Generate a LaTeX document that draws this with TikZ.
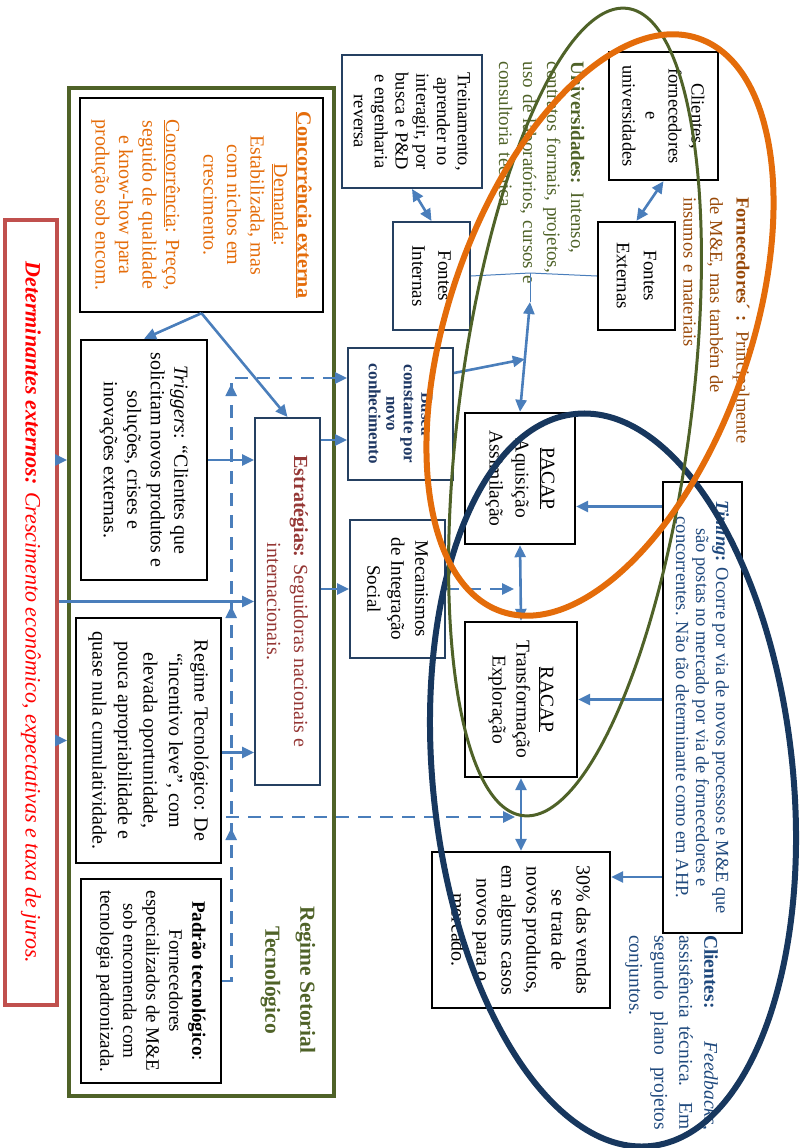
\documentclass[tikz,border=0pt]{standalone}
\usepackage{fontspec}
\setmainfont{Liberation Serif}
\usepackage{tikz}
\usetikzlibrary{arrows.meta, decorations.markings, calc}

\definecolor{olivegr}{HTML}{4F6228}
\definecolor{orng}{HTML}{E46C0A}
\definecolor{brwn}{HTML}{984807}
\definecolor{navyell}{HTML}{17375E}
\definecolor{dkbox}{HTML}{254061}
\definecolor{arrblue}{HTML}{4A7EBB}
\definecolor{dkred}{HTML}{953735}
\definecolor{txtblue}{HTML}{1F497D}
\definecolor{redbox}{HTML}{C0504D}
\definecolor{redtxt}{HTML}{FF0000}
\definecolor{bscblue}{HTML}{1F3864}

\newcommand{\fsz}[2]{\fontsize{#1}{#2}\selectfont}

\begin{document}
\begin{tikzpicture}[
    x=1pt, y=-1pt,
    >={Triangle[length=12pt, width=11pt]},
    box/.style={draw=black, line width=2.4pt, rotate=-90, inner sep=0pt, align=center},
    bluebox/.style={box, draw=dkbox, line width=2pt},
    freetxt/.style={rotate=-90, inner sep=0pt, align=left},
    conn/.style={->, color=arrblue, line width=2.6pt},
    biconn/.style={conn, <->},
    dashconn/.style={conn, dash pattern=on 13pt off 9pt},
    thinconn/.style={color=arrblue, line width=1pt},
    upmarks/.style={postaction={decorate}, decoration={markings,
        mark=at position 162pt with {\arrow{Triangle[length=12pt, width=11pt]}},
        mark=at position 384pt with {\arrow{Triangle[length=12pt, width=11pt]}},
        mark=at position 606pt with {\arrow{Triangle[length=12pt, width=11pt]}}}}
]
    \useasboundingbox (0,0) rectangle (800,1148);

    % determinantes externos
    \node[box, draw=redbox, line width=3.5pt, minimum width=785pt, minimum height=52pt,
          text=redtxt, font=\fsz{22}{26}\itshape] (det) at (31,612.5)
        {\textbf{Determinantes externos:} Crescimento econômico, expectativas e taxa de juros.};

    % regime setorial
    \node[draw=olivegr, line width=4pt, minimum width=265pt, minimum height=1008pt, inner sep=0pt] (regset) at (201.5,592) {};
    \node[rotate=-90, text=olivegr, font=\fsz{21.5}{35}\bfseries, align=center] (rstlab) at (288,980)
        {Regime Setorial\\Tecnológico};

    \node[box, minimum width=214pt, minimum height=243pt, text=orng, font=\fsz{20}{23.5}] (conc) at (201.5,205)
        {\textbf{\underline{Concorrência externa}}\\ \underline{Demanda}:\\ Estabilizada, mas\\ com nichos em\\ crescimento.\\[14pt]
         \underline{Concorrência}: Preço,\\ seguido de qualidade\\ e know-how para\\ produção sob encom.};
    \node[box, minimum width=240pt, minimum height=126pt, font=\fsz{20}{23.5}] (trig) at (144,460)
        {\textit{Triggers}: “Clientes que\\ solicitam novos produtos e\\ soluções, crises e\\ inovações externas.};
    \node[box, minimum width=245pt, minimum height=145pt, font=\fsz{20}{25.5}] (regt) at (148.5,740.5)
        {Regime Tecnológico: De\\ “incentivo leve”, com\\ elevada oportunidade,\\ pouca apropriabilidade e\\ quase nula cumulatividade.};
    \node[box, minimum width=204pt, minimum height=140pt, font=\fsz{19}{23}] (padr) at (151,981)
        {\textbf{Padrão tecnológico}:\\ Fornecedores\\ especializados de M\&E\\ sob encomenda com\\ tecnologia padronizada.};
    \node[bluebox, minimum width=367pt, minimum height=65pt, text=dkred, font=\fsz{20}{27}] (estr) at (287.5,601.5)
        {\textbf{Estratégias:} Seguidoras nacionais e\\ internacionais.};

    % fontes e busca
    \node[bluebox, minimum width=133pt, minimum height=140pt, font=\fsz{18.5}{20.8}] (tre) at (412,121.5)
        {Treinamento,\\ aprender no\\ interagir, por\\ busca e P\&D\\ e engenharia\\ reversa};
    \node[bluebox, minimum width=108pt, minimum height=77pt, font=\fsz{19}{26}] (fint) at (431.5,276) {Fontes\\ Internas};
    \node[bluebox, minimum width=132pt, minimum height=105pt, text=bscblue, font=\fsz{17}{17.5}\bfseries] (busca) at (400.5,414)
        {Busca\\ constante por\\ novo\\ conhecimento};
    \node[bluebox, minimum width=138pt, minimum height=95pt, font=\fsz{19}{24}] (mec) at (397.5,589)
        {Mecanismos\\ de Integração\\ Social};

    \node[box, minimum width=131pt, minimum height=110pt, font=\fsz{19.5}{26}] (pacap) at (520,478.5)
        {\underline{PACAP}\\ Aquisição\\ Assimilação};
    \node[box, minimum width=155pt, minimum height=112pt, font=\fsz{19.5}{24}] (racap) at (521,699.5)
        {\underline{RACAP}\\ Transformação\\ Exploração};
    \node[box, minimum width=156pt, minimum height=178pt, font=\fsz{20}{25}] (pct) at (521,930)
        {30\% das vendas\\ se trata de\\ novos produtos,\\ em alguns casos\\ novos para o\\ mercado.};
    \node[box, minimum width=128pt, minimum height=109pt, font=\fsz{18.5}{23}] (cli) at (663.5,116)
        {Clientes,\\ fornecedores\\ e\\ universidades};
    \node[box, minimum width=108pt, minimum height=77pt, font=\fsz{19}{27}] (fext) at (636.5,276) {Fontes\\ Externas};
    \node[box, minimum width=451pt, minimum height=79pt, text=txtblue, font=\fsz{18.5}{20}] (tim) at (702.5,707.5)
        {\textbf{\textit{Timing}:} Ocorre por via de novos processos e M\&E que\\ são postas no mercado por via de fornecedores e\\ concorrentes. Não tão determinante como em AHP.};

    % textos soltos
    \node[freetxt, text width=240pt, text=olivegr, font=\fsz{19}{24}] (univ) at (541.5,182)
        {\textbf{Universidades:} Intenso,\\ contratos formais, projetos,\\ uso de laboratórios, cursos e\\ consultoria técnica};
    \node[freetxt, text width=280pt, text=brwn, font=\fsz{18.5}{26.5}] (forn) at (716.5,337)
        {\textbf{Fornecedores´ :} Principalmente\\ de M\&E, mas também de\\ insumos e materiais};
    \node[freetxt, align=justify, text width=195pt, text=txtblue, font=\fsz{19.5}{25}] (clitxt) at (671.5,1032.5)
        {\textbf{Clientes:} \textit{Feedbacks},\linebreak assistência técnica. Em\linebreak segundo plano projetos\linebreak conjuntos.};

    % ligacoes
    \draw[biconn] (tre.east) -- (fint.west);
    \draw[biconn] (cli.east) -- (fext.west);
    \coordinate (jn) at (530,273);
    \coordinate (jt) at (530,302);
    \draw[thinconn] (fint.north) -- (jn) -- (fext.south);
    \draw[thinconn] (jn) -- (jt);
    \draw[biconn] (jt) -- (pacap.west);
    \draw[conn] ([yshift=41pt]busca.north) -- ($(jt)!0.52!(pacap.west)$);

    \draw[conn] (conc.east) -- (trig.west);
    \draw[conn] (conc.east) -- (estr.west);
    \draw[conn] (trig.north) -- (trig.north -| estr.south);
    \coordinate (rgo) at ([yshift=-12pt]regt.north);
    \draw[conn] (rgo) -- (rgo -| estr.south);

    \draw[conn] (det.north |- trig.north) -- (regset.west |- trig.north);
    \draw[conn] (det.north |- regt.north) -- (regset.west |- regt.north);
    \draw[conn] (det.north |- estr.south) -- (estr.south);

    \coordinate (bsin) at ([yshift=-26pt]busca.south);
    \draw[conn] (estr.north |- bsin) -- (bsin);
    \draw[conn] (estr.north |- mec.south) -- (mec.south);

    % tracejadas
    \coordinate (bsdash) at ([yshift=36pt]busca.south);
    \draw[dashconn, upmarks] (padr.north) -- ++(9,0) |- (bsdash);
    \coordinate (dbr) at (226,817);
    \draw[dashconn, shorten >=6pt] (dbr) -- (dbr -| racap.east);
    \draw[dashconn, shorten >=6pt] (mec.north) -- (mec.north -| pacap.east);

    \draw[biconn] (pacap.east) -- (racap.west);
    \draw[biconn] (racap.east) -- (racap.east |- pct.west);

    \coordinate (tpa) at ([yshift=-28pt]pacap.north);
    \draw[conn] (tim.south |- tpa) -- (tpa);
    \draw[conn] (tim.south |- racap.north) -- (racap.north);
    \coordinate (tpc) at ([yshift=53pt]pct.north);
    \draw[conn] (tim.south |- tpc) -- (tpc);

    % elipses
    \draw[navyell, line width=6pt, rotate around={95.9:(613,780)}] (613,780) ellipse [x radius=368pt, y radius=180pt];
    \draw[olivegr, line width=3pt, rotate around={82.6:(575,412)}] (575,412) ellipse [x radius=407pt, y radius=116pt];
    \draw[orng, line width=6pt, rotate around={71:(600,325)}] (600,325) ellipse [x radius=303pt, y radius=151pt];
\end{tikzpicture}
\end{document}
